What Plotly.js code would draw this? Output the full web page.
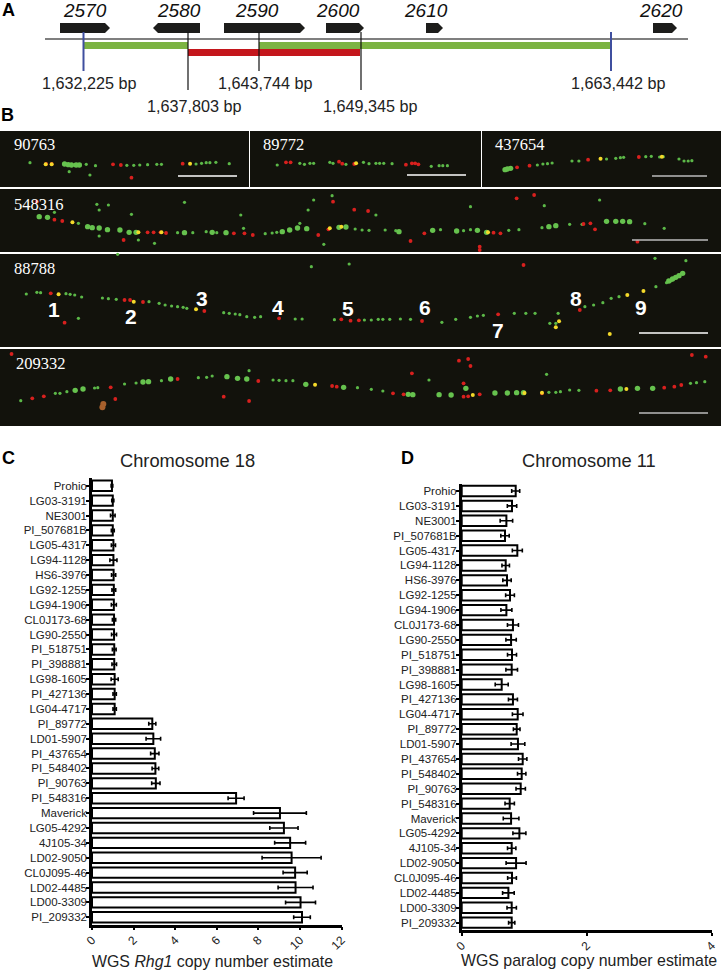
<!DOCTYPE html>
<html><head><meta charset="utf-8">
<script src="https://cdn.plot.ly/plotly-3.0.1.min.js"></script>
<style>html,body{margin:0;padding:0;background:#fff}</style></head>
<body><div id="chart" style="width:721px;height:971px"></div>
<script>
// Panels C and D: copy number estimates
const lines = ["Prohio","LG03-3191","NE3001","PI_507681B","LG05-4317","LG94-1128","HS6-3976","LG92-1255","LG94-1906","CL0J173-68","LG90-2550","PI_518751","PI_398881","LG98-1605","PI_427136","LG04-4717","PI_89772","LD01-5907","PI_437654","PI_548402","PI_90763","PI_548316","Maverick","LG05-4292","4J105-34","LD02-9050","CL0J095-46","LD02-4485","LD00-3309","PI_209332"];
const rhg1 = [0.96,1.0,1.0,1.0,1.03,1.03,1.04,1.05,1.05,1.06,1.06,1.07,1.07,1.09,1.09,1.09,2.9,2.95,3.02,3.05,3.07,6.93,9.04,9.23,9.53,9.6,9.77,9.79,10.03,10.1];
const rhg1Err = [0.04,0.05,0.11,0.07,0.1,0.17,0.1,0.09,0.12,0.08,0.12,0.09,0.11,0.17,0.08,0.08,0.17,0.35,0.2,0.16,0.2,0.385,1.27,0.68,0.745,1.42,0.58,0.84,0.72,0.4];
const paralog = [0.864,0.805,0.715,0.693,0.89,0.704,0.725,0.773,0.715,0.82,0.79,0.805,0.8,0.64,0.82,0.896,0.88,0.9,0.976,0.96,0.944,0.768,0.79,0.923,0.8,0.87,0.805,0.747,0.8,0.8];
const paralogErr = [0.064,0.075,0.1,0.067,0.08,0.06,0.067,0.07,0.088,0.088,0.083,0.072,0.093,0.104,0.072,0.085,0.053,0.11,0.067,0.067,0.075,0.075,0.125,0.104,0.067,0.16,0.07,0.093,0.075,0.05];

// Panel A: gene map, read in page pixels
const geneNames = ["2570","2580","2590","2600","2610","2620"];
const geneStart = [60,200,224,326,426,653];
const geneEnd = [110,153,305,364,443,677];
const geneLabelX = [85,179,257,338,426,661];
const markLabels = ["1,632,225 bp","1,637,803 bp","1,643,744 bp","1,649,345 bp","1,663,442 bp"];
const markX = [83.5,188,259,361,611];
const markBottom = [71,90,71,90,71];
const markColor = ["#3f4f9f","#111","#111","#111","#3f4f9f"];
const markLabelX = [89,194,265,370,618];
const markLabelY = [83,106,83,106,83];
const greenSpans = [[84,188],[259,610]];
const redSpans = [[188,360]];

// Panel B: fibre signal positions (1563 wide scale, 3x vertical)
const greenSmallUpper = [[65,113],[150,140],[187,118],[207,122],[195,150],[275,121],[290,121],[303,120],[320,119],[340,118],[350,118],[425,117],[437,115],[447,113],[455,113],[468,112],[497,116],[601,120],[650,115],[660,118],[672,115],[680,115],[715,112],[722,115],[750,118],[788,112],[800,116],[815,115],[823,115],[832,115],[850,116],[935,124],[952,122],[960,122],[970,122],[1165,120],[1177,117],[1187,116],[1197,114],[1240,108],[1255,108],[1315,102],[1335,100],[1345,98],[1352,97],[1400,95],[1412,94],[1430,96],[1438,95],[1472,102],[1483,108],[1492,108],[1500,107],[118,262],[170,295],[215,255],[400,232],[285,268],[235,240],[210,238],[300,345],[215,333],[335,355],[385,323],[418,323],[447,320],[470,323],[575,326],[590,324],[600,322],[650,295],[668,255],[680,225],[720,212],[702,358],[770,312],[785,315],[800,316],[835,315],[858,317],[955,314],[1005,317],[1020,314],[1103,316],[1125,314],[1175,308],[1235,298],[1262,298],[1398,296],[1440,310],[1300,225],[1180,242],[1020,245],[815,270],[528,310],[522,270],[1420,400],[1487,407],[255,388],[757,417],[675,425]];
const greenBigUpper = [[140,117],[148,119],[155,120],[165,120],[172,120],[1095,134],[1100,132],[1107,130],[85,275],[103,277],[190,305],[200,308],[215,309],[233,314],[260,315],[280,322],[295,322],[400,323],[460,322],[490,323],[612,320],[628,315],[645,309],[665,311],[735,307],[750,306],[865,320],[938,316],[990,318],[1035,316],[1055,322],[1205,302],[1190,305],[1315,289],[1335,289],[1350,289],[1365,290],[1450,468],[1458,462],[1465,457],[1472,452],[1480,445]];
const redUpper = [[100,117],[245,118],[262,120],[396,116],[112,117],[285,158],[620,112],[630,112],[735,110],[742,116],[768,117],[880,119],[893,115],[900,115],[907,118],[1121,127],[1148,122],[1275,104],[1385,96],[118,284],[135,288],[320,322],[333,322],[360,324],[348,322],[507,325],[530,325],[548,330],[712,313],[1070,323],[1085,325],[1265,297],[1280,295],[1290,313],[1120,220],[1158,210],[722,230],[768,254],[798,258],[268,345],[890,348],[1040,365],[1382,350],[80,230],[690,330],[920,325],[1040,375],[1135,420]];
const yellowUpper = [[99,118],[112,118],[412,116],[772,115],[1302,101],[1435,95],[157,292],[300,322],[350,322],[740,305],[1058,322],[715,310]];
const greenSmallLower = [[57,42],[80,37],[88,38],[143,41],[152,43],[162,45],[177,51],[222,54],[235,56],[252,58],[323,65],[345,70],[358,75],[372,78],[385,80],[397,82],[405,85],[485,98],[497,100],[510,102],[520,104],[535,110],[552,112],[565,110],[640,117],[655,117],[725,119],[790,120],[805,120],[820,118],[830,118],[845,118],[868,117],[890,118],[958,127],[988,118],[1020,112],[1035,108],[1048,106],[1115,100],[1140,100],[1160,100],[1268,80],[1287,75],[1307,68],[1325,55],[1342,50],[1422,20],[1445,8],[1455,2],[170,115],[1210,100],[1192,130],[1205,130],[45,362],[120,340],[130,340],[145,335],[205,324],[212,323],[270,312],[295,309],[350,302],[430,293],[448,292],[460,288],[592,300],[605,301],[620,302],[635,302],[775,323],[805,328],[830,333],[1190,337],[1205,337],[1215,335],[1235,330],[1255,331],[1497,310],[1510,308],[1528,305],[1185,283],[540,272],[930,300]];
const greenBigLower = [[163,331],[180,327],[310,306],[322,305],[370,297],[492,290],[515,295],[535,297],[663,313],[745,322],[885,343],[895,344],[952,344],[978,345],[1010,325],[1073,339],[1100,339],[1120,338],[1135,338],[1345,327],[1382,325],[1415,325]];
const redLower = [[110,40],[270,60],[282,60],[310,66],[443,93],[740,118],[760,122],[915,123],[1080,103],[1257,90],[140,128],[605,115],[778,121],[95,349],[70,355],[240,322],[385,297],[560,303],[720,318],[730,320],[852,340],[875,343],[1005,350],[1015,349],[1040,343],[1175,340],[1293,332],[1323,331],[1440,323],[1462,320],[1477,315],[1500,225],[1530,230],[995,242],[1015,237],[1020,258],[485,350],[540,363],[250,357],[893,280],[25,222],[1005,310]];
const yellowLower = [[127,43],[290,65],[425,88],[1212,124],[1205,142],[1360,45],[1395,33],[1322,162],[683,314],[1025,345],[1137,339],[1175,338],[1358,327]];
const orangeLower = [[224,372],[222,382]];

const imagePanels = [[0,131,249,187],[250,131,481,187],[482,131,721,187],[0,189,721,252],[0,254,721,347],[0,349,721,426]];
const panelNames = ["90763","89772","437654","548316","88788","209332"];
const panelNameX = [12,261,493,12,12,14];
const panelNameY = [144,144,144,204,268,363];
const scaleBars = [[178,237,176,"#fff"],[407,466,175,"#fff"],[652,707,176,"#bbb"],[632,708,240,"#bbb"],[639,708,333,"#fff"],[639,708,413,"#bbb"]];
const fibreNumbers = ["1","2","3","4","5","6","7","8","9"];
const fibreNumberX = [54,131,202,278,348,425,498,576,641];
const fibreNumberY = [309,316,298,307,308,307,330,298,307];

const px = x => x / 2.168;
const pyUpper = y => 125 + y / 3;
const pyLower = y => 280 + y / 3;
function dots(upper, lower, color, size, name) {
  const all = upper.map(p => [px(p[0]), pyUpper(p[1])]).concat(lower.map(p => [px(p[0]), pyLower(p[1])]));
  return {type:"scatter", mode:"markers", name, xaxis:"x3", yaxis:"y3", hoverinfo:"skip",
    x: all.map(p => p[0]), y: all.map(p => p[1]),
    marker:{color, size, line:{width:0}}};
}
function bars(values, errors, xa, ya) {
  return {type:"bar", orientation:"h", x:values, y:lines, xaxis:xa, yaxis:ya, width:0.7,
    marker:{color:"#fff", line:{color:"#000", width:2}},
    error_x:{type:"data", array:errors, visible:true, color:"#000", thickness:1.6, width:2}};
}
const traces = [
  dots(greenSmallUpper, greenSmallLower, "#5cb848", 3.2, "green"),
  dots(greenBigUpper, greenBigLower, "#66c24e", 5.4, "green large"),
  dots(redUpper, redLower, "#d8201e", 3.8, "red"),
  dots(yellowUpper, yellowLower, "#f4d92a", 4, "yellow"),
  dots([], orangeLower, "#a8602c", 6, "debris"),
  bars(rhg1, rhg1Err, "x", "y"),
  bars(paralog, paralogErr, "x2", "y2")
];

const shapes = [];
const P = {xref:"x3", yref:"y3"};
imagePanels.forEach(r => shapes.push({...P, type:"rect", x0:r[0], y0:r[1], x1:r[2], y1:r[3], fillcolor:"#12120c", line:{width:0}, layer:"below"}));
scaleBars.forEach(b => shapes.push({...P, type:"line", x0:b[0], x1:b[1], y0:b[2], y1:b[2], line:{color:b[3], width:1.6}, layer:"above"}));
greenSpans.forEach(s => shapes.push({...P, type:"rect", x0:s[0], x1:s[1], y0:42, y1:49, fillcolor:"#7cb342", line:{width:0}}));
redSpans.forEach(s => shapes.push({...P, type:"rect", x0:s[0], x1:s[1], y0:49, y1:56, fillcolor:"#c4161c", line:{width:0}}));
shapes.push({...P, type:"line", x0:45, x1:688, y0:39, y1:39, line:{color:"#555", width:1.4}});
geneStart.forEach((s, i) => {
  const e = geneEnd[i], d = e > s ? 1 : -1, neck = e - d * 5;
  shapes.push({...P, type:"path", path:`M${s},23 L${neck},23 L${e},28 L${neck},33 L${s},33 Z`, fillcolor:"#1d1d1b", line:{width:0}});
});
markX.forEach((x, i) => shapes.push({...P, type:"line", x0:x, x1:x, y0:32, y1:markBottom[i], line:{color:markColor[i], width:i===0||i===4?2:1.2}}));

const sans = "Liberation Sans, Arial, sans-serif";
const note = (text, x, y, size, color, extra) => Object.assign({xref:"x3", yref:"y3", x, y, text, showarrow:false, xanchor:"center", yanchor:"middle", font:{family:sans, size, color}}, extra||{});
const annotations = [];
geneNames.forEach((n, i) => annotations.push(note("<i>"+n+"</i>", geneLabelX[i], 10.5, 19, "#111")));
markLabels.forEach((t, i) => annotations.push(note(t, markLabelX[i], markLabelY[i], 16.2, "#222")));
panelNames.forEach((t, i) => annotations.push(note(t, panelNameX[i], panelNameY[i], 16, "#fff", {xanchor:"left", font:{family:"Liberation Serif, serif", size:16.5, color:"#fff"}})));
fibreNumbers.forEach((t, i) => annotations.push(note("<b>"+t+"</b>", fibreNumberX[i], fibreNumberY[i], 21, "#fff")));
[["A",8,10],["B",7,115],["C",8,458],["D",407,458]].forEach(l => annotations.push(note("<b>"+l[0]+"</b>", l[1], l[2], 18, "#000")));
annotations.push(note("Chromosome 18", 187, 460, 18.3, "#222"));
annotations.push(note("Chromosome 11", 589, 460, 18.3, "#222"));
annotations.push(note("WGS <i>Rhg1</i> copy number estimate", 212, 961, 15.9, "#222"));
annotations.push(note("WGS paralog copy number estimate", 588.5, 960, 15.9, "#222"));

const valueAxis = (dom, max, dtick, anchor) => ({domain:dom, range:[0,max], dtick, anchor, showgrid:false, zeroline:false,
  showline:true, linecolor:"#000", linewidth:2.5, ticks:"outside", ticklen:3, tickwidth:1.5, tickcolor:"#000", tickangle:-45, ticklabelstandoff:-2,
  tickfont:{family:sans, size:12, color:"#222"}});
const catAxis = (dom, anchor) => ({domain:dom, type:"category", categoryorder:"array", categoryarray:lines, range:[29.5,-0.5], anchor,
  showgrid:false, zeroline:false, showline:true, linecolor:"#000", linewidth:2.5, ticks:"outside", ticklen:3, tickwidth:1.5, tickcolor:"#000", ticklabelstandoff:-3,
  tickfont:{family:sans, size:11.5, color:"#222"}, automargin:false});

const layout = {
  width:721, height:971, margin:{l:0,r:0,t:0,b:0}, autosize:false, showlegend:false,
  paper_bgcolor:"#fff", plot_bgcolor:"rgba(0,0,0,0)", bargap:0.28,
  xaxis: valueAxis([92/721,341.5/721], 12, 2, "y"),
  yaxis: catAxis([1-924.7/971,1-478.3/971], "x"),
  xaxis2: valueAxis([461.7/721,711.7/721], 4, 2, "y2"),
  yaxis2: catAxis([1-930.1/971,1-483.6/971], "x2"),
  xaxis3: {domain:[0,1], range:[0,721], visible:false, anchor:"y3", fixedrange:true},
  yaxis3: {domain:[0,1], range:[971,0], visible:false, anchor:"x3", fixedrange:true},
  shapes, annotations
};
Plotly.newPlot("chart", traces, layout, {displayModeBar:false, responsive:false});
</script></body></html>
